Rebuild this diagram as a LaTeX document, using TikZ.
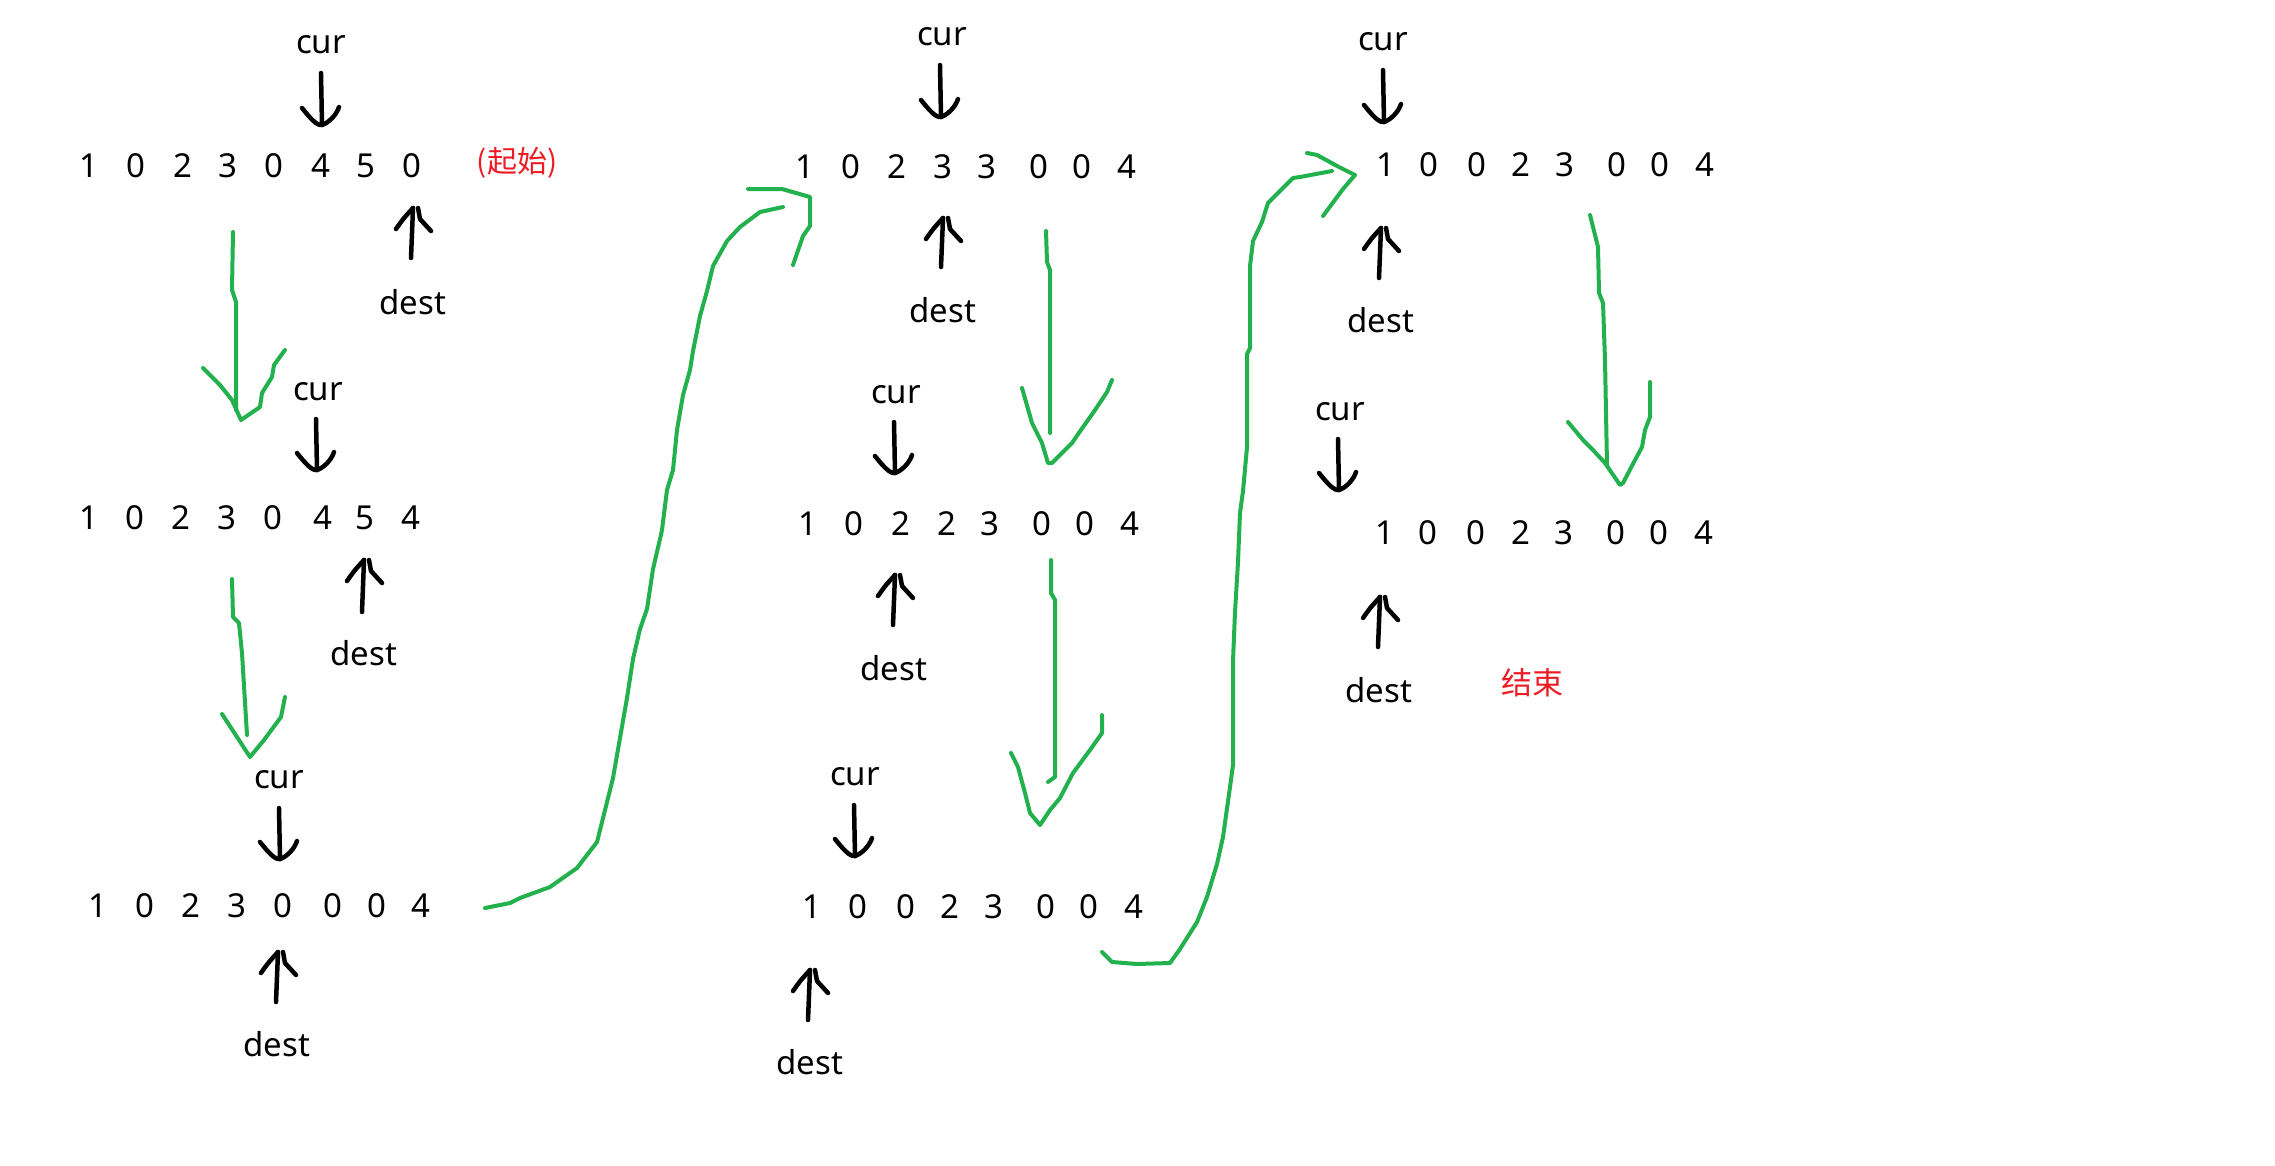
\documentclass[tikz,border=0pt]{standalone}
\usepackage{fontspec}
\setmainfont{Noto Sans}
\newfontfamily\cjk{Noto Sans CJK SC}
\definecolor{pgreen}{RGB}{34,177,76}
\definecolor{pred}{RGB}{237,28,36}
\tikzset{
  txt/.style={font=\fontsize{33}{40}\selectfont, inner sep=0pt},
  dig/.style={txt},
  redtxt/.style={font=\cjk\fontsize{30}{36}\selectfont, text=pred, inner sep=0pt},
  blk/.style={draw=black, line width=4.5pt, line cap=round, line join=round},
  grn/.style={draw=pgreen, line width=4pt, line cap=round, line join=round},
}
\newcommand{\mydigrow}[3]{%
  \foreach \xx/\dd [count=\ii] in {#3} {\node[dig] (#1-\ii) at (\xx,#2) {\dd};}}
\newcommand{\mycurarr}[3]{%
  \draw[blk] (#1,#2) -- (#1+1,#3);
  \draw[blk] (#1-19,#3-17) .. controls (#1-11,#3-7) and (#1-4,#3+1) .. (#1+1,#3)
     .. controls (#1+7,#3-2) and (#1+15,#3-9) .. (#1+18,#3-18);}
\newcommand{\mydestarr}[3]{%
  \draw[blk] (#1,#2) -- (#1+2,#3);
  \draw[blk] (#1-15,#3+21) .. controls (#1-8,#3+11) .. (#1+2,#3);
  \draw[blk] (#1+7,#3) -- (#1+9,#3+11) -- (#1+20,#3+23);}
\begin{document}
\begin{tikzpicture}[x=1pt,y=-1pt]
\fill[white] (0,0) rectangle (2275,1165);
\useasboundingbox (0,0) rectangle (2275,1165);

% ---------- panel 1 ----------
\node[txt] (c11) at (321,45) {cur};
\mycurarr{321}{73}{125}
\mydigrow{a1}{166}{89/1,136/0,183/2,228/3,274/0,321/4,366/5,412/0}
\node[redtxt] (start) at (517,163) {(起始)};
\mydestarr{411}{258}{208}
\node[txt] (d11) at (413,302) {dest};

\node[txt] (c12) at (318,392) {cur};
\mycurarr{316}{419}{470}
\mydigrow{a2}{518}{89/1,135/0,181/2,227/3,273/0,323/4,365/5,411/4}
\mydestarr{362}{612}{560}
\node[txt] (d12) at (364,653) {dest};

\node[txt] (c13) at (279,780) {cur};
\mycurarr{279}{808}{859}
\mydigrow{a3}{906}{98/1,145/0,191/2,237/3,283/0,333/0,377/0,421/4}
\mydestarr{276}{1002}{952}
\node[txt] (d13) at (277,1044) {dest};

% ---------- panel 2 ----------
\node[txt] (c21) at (942,37) {cur};
\mycurarr{940}{65}{117}
\mydigrow{b1}{167}{805/1,851/0,897/2,943/3,987/3,1039/0,1082/0,1127/4}
\mydestarr{941}{267}{218}
\node[txt] (d21) at (943,310) {dest};

\node[txt] (c22) at (896,395) {cur};
\mycurarr{894}{422}{473}
\mydigrow{b2}{524}{808/1,854/0,901/2,947/2,990/3,1042/0,1085/0,1130/4}
\mydestarr{893}{625}{575}
\node[txt] (d22) at (894,668) {dest};

\node[txt] (c23) at (855,777) {cur};
\mycurarr{854}{805}{856}
\mydigrow{b3}{907}{812/1,858/0,906/0,950/2,994/3,1046/0,1089/0,1134/4}
\mydestarr{808}{1020}{970}
\node[txt] (d23) at (810,1062) {dest};

% ---------- panel 3 ----------
\node[txt] (c31) at (1383,42) {cur};
\mycurarr{1383}{70}{122}
\mydigrow{e1}{165}{1386/1,1429/0,1477/0,1521/2,1565/3,1617/0,1660/0,1705/4}
\mydestarr{1379}{278}{228}
\node[txt] (d31) at (1381,320) {dest};

\node[txt] (c32) at (1340,412) {cur};
\mycurarr{1338}{439}{490}
\mydigrow{e2}{533}{1385/1,1428/0,1476/0,1521/2,1564/3,1616/0,1659/0,1704/4}
\mydestarr{1378}{647}{597}
\node[txt] (d32) at (1379,690) {dest};
\node[redtxt, font=\cjk\fontsize{31}{36}\selectfont] (fin) at (1532,683) {结束};

% ---------- green arrows ----------
% G1
\draw[grn] (233,232) -- (232,290) -- (236,302) -- (236,410);
\draw[grn] (203,368) -- (220,385) -- (232,400) -- (241,420) -- (260,407) -- (262,393) -- (272,377) -- (274,365) -- (285,350);
% G2
\draw[grn] (232,579) -- (233,617) -- (239,623) -- (242,653) -- (247,735);
\draw[grn] (222,714) -- (237,737) -- (250,757) -- (264,740) -- (281,717) -- (285,697);
% S1
\draw[grn] (485,908) -- (510,903) -- (520,898) -- (550,887) -- (577,868) -- (597,842)
  -- (603,818) -- (613,778) -- (620,738) -- (627,698) -- (633,659) -- (640,629)
  -- (647,609) -- (653,569) -- (660,539) -- (662,530) -- (667,490) -- (673,470)
  -- (677,430) -- (683,395) -- (690,370) -- (693,351) -- (700,316) -- (707,291)
  -- (713,266) -- (727,241) -- (740,227) -- (760,212) -- (783,207);
\draw[grn] (748,189) -- (782,189) -- (810,197) -- (810,226) -- (803,236) -- (793,265);
% G3
\draw[grn] (1046,231) -- (1047,262) -- (1050,270) -- (1050,433);
\draw[grn] (1022,388) -- (1032,423) -- (1042,443) -- (1048,463) -- (1052,463) -- (1072,443)
  -- (1083,427) -- (1093,413) -- (1107,392) -- (1112,380);
% G4
\draw[grn] (1051,560) -- (1051,593) -- (1055,600) -- (1055,777) -- (1048,782);
\draw[grn] (1011,753) -- (1018,767) -- (1025,793) -- (1030,813) -- (1040,825) -- (1050,810)
  -- (1060,798) -- (1073,773) -- (1090,750) -- (1102,733) -- (1102,715);
% S2
\draw[grn] (1102,952) -- (1112,962) -- (1137,964) -- (1170,963) -- (1180,949) -- (1197,922)
  -- (1207,897) -- (1217,864) -- (1223,837) -- (1230,787) -- (1233,765) -- (1233,661)
  -- (1235,612) -- (1238,562) -- (1240,513) -- (1243,491) -- (1247,447) -- (1247,354)
  -- (1250,348) -- (1250,266) -- (1253,241) -- (1262,222) -- (1268,203) -- (1282,189)
  -- (1293,178) -- (1300,177) -- (1332,171);
\draw[grn] (1307,153) -- (1317,155) -- (1337,166) -- (1355,175) -- (1343,189) -- (1323,216);
% G5
\draw[grn] (1590,215) -- (1598,247) -- (1599,293) -- (1603,303) -- (1605,360) -- (1607,465);
\draw[grn] (1568,422) -- (1583,440) -- (1593,450) -- (1605,463) -- (1620,485) -- (1623,483)
  -- (1635,460) -- (1642,447) -- (1645,430) -- (1650,417) -- (1650,382);
\end{tikzpicture}
\end{document}
